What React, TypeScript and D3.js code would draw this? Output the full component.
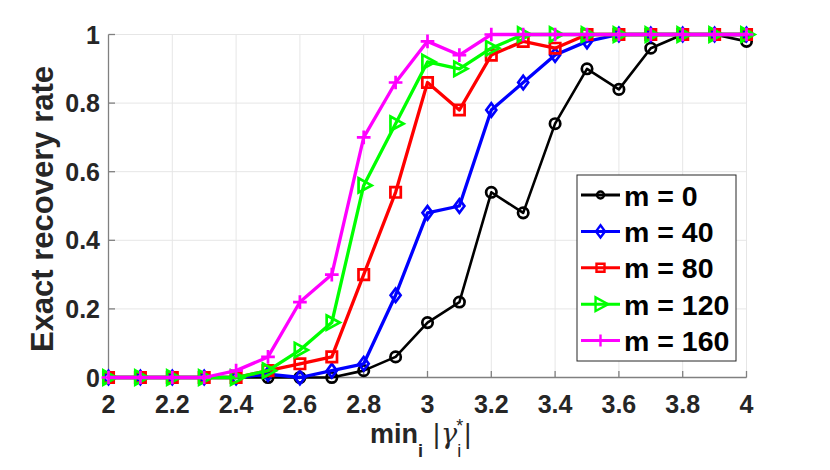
import * as d3 from "d3";

const xValues = [2, 2.1, 2.2, 2.3, 2.4, 2.5, 2.6, 2.7, 2.8, 2.9, 3, 3.1, 3.2, 3.3, 3.4, 3.5, 3.6, 3.7, 3.8, 3.9, 4];

const m0 = [0, 0, 0, 0, 0, 0, 0, 0, 0.02, 0.06, 0.16, 0.22, 0.54, 0.48, 0.74, 0.9, 0.84, 0.96, 1, 1, 0.98];
const m40 = [0, 0, 0, 0, 0, 0.01, 0, 0.02, 0.04, 0.24, 0.48, 0.5, 0.78, 0.86, 0.94, 0.98, 1, 1, 1, 1, 1];
const m80 = [0, 0, 0, 0, 0, 0.02, 0.04, 0.06, 0.3, 0.54, 0.86, 0.78, 0.94, 0.98, 0.96, 1, 1, 1, 1, 1, 1];
const m120 = [0, 0, 0, 0, 0, 0.02, 0.08, 0.16, 0.56, 0.74, 0.92, 0.9, 0.96, 1, 1, 1, 1, 1, 1, 1, 1];
const m160 = [0, 0, 0, 0, 0.02, 0.06, 0.22, 0.3, 0.7, 0.86, 0.98, 0.94, 1, 1, 1, 1, 1, 1, 1, 1, 1];

const xTicks = [2, 2.2, 2.4, 2.6, 2.8, 3, 3.2, 3.4, 3.6, 3.8, 4];
const yTicks = [0, 0.2, 0.4, 0.6, 0.8, 1];

type Marker = "circle" | "diamond" | "square" | "triangle" | "plus";

interface Series {
  label: string;
  values: number[];
  color: string;
  marker: Marker;
  width: number;
}

const series: Series[] = [
  { label: "m = 0", values: m0, color: "#000000", marker: "circle", width: 2.6 },
  { label: "m = 40", values: m40, color: "#0000ff", marker: "diamond", width: 3.3 },
  { label: "m = 80", values: m80, color: "#ff0000", marker: "square", width: 3.3 },
  { label: "m = 120", values: m120, color: "#00ff00", marker: "triangle", width: 3.3 },
  { label: "m = 160", values: m160, color: "#ff00ff", marker: "plus", width: 3.3 },
];

const FONT = "'Liberation Sans', Arial, Helvetica, sans-serif";
const TXT = "#262626";

function markerPath(kind: Marker, s: number): string {
  // s ~ half size
  switch (kind) {
    case "circle":
      return `M${-s},0a${s},${s} 0 1,0 ${2 * s},0a${s},${s} 0 1,0 ${-2 * s},0Z`;
    case "diamond":
      return `M0,${-s * 1.35}L${s},0L0,${s * 1.35}L${-s},0Z`;
    case "square":
      return `M${-s},${-s}H${s}V${s}H${-s}Z`;
    case "triangle":
      return `M${-s * 0.9},${-s * 1.25}L${s * 1.4},0L${-s * 0.9},${s * 1.25}Z`;
    case "plus":
      return `M${-s * 1.2},0H${s * 1.2}M0,${-s * 1.2}V${s * 1.2}`;
  }
}

const plotSize: Record<Marker, number> = { circle: 5.2, diamond: 5, square: 5.2, triangle: 5.7, plus: 5.7 };
const legendSize: Record<Marker, number> = { circle: 3.5, diamond: 4.5, square: 4, triangle: 5.5, plus: 5 };

export default function App() {
  const width = 830;
  const height = 470;
  const x = d3.scaleLinear().domain([2, 4]).range([108.5, 746.5]);
  const y = d3.scaleLinear().domain([0, 1]).range([377.5, 34.5]);

  const line = d3
    .line<number>()
    .x((_, i) => x(xValues[i]))
    .y((d) => y(d));

  const legendX = 577;
  const legendY = 175;
  const legendW = 159;
  const legendH = 186;
  const rowStep = 36.4;

  return (
    <div style={{ position: "absolute", left: 0, top: 0 }}>
      <svg width={width} height={height} style={{ display: "block", background: "#fff" }}>
        {/* grid */}
        <g stroke="#e6e6e6" strokeWidth={1}>
          {xTicks.map((t) => (
            <line key={`gx${t}`} x1={x(t)} x2={x(t)} y1={y(0)} y2={y(1)} />
          ))}
          {yTicks.map((t) => (
            <line key={`gy${t}`} x1={x(2)} x2={x(4)} y1={y(t)} y2={y(t)} />
          ))}
        </g>

        {/* axes */}
        <g stroke="#808080" strokeWidth={1.3} fill="none">
          <line x1={x(2)} x2={x(4)} y1={y(0)} y2={y(0)} />
          <line x1={x(2)} x2={x(2)} y1={y(0)} y2={y(1)} />
          {xTicks.map((t) => (
            <line key={`tx${t}`} x1={x(t)} x2={x(t)} y1={y(0)} y2={y(0) - 6.5} />
          ))}
          {yTicks.map((t) => (
            <line key={`ty${t}`} x1={x(2)} x2={x(2) + 6.5} y1={y(t)} y2={y(t)} />
          ))}
        </g>

        {/* tick labels */}
        <g fontFamily={FONT} fontWeight="bold" fontSize={25} fill={TXT}>
          {xTicks.map((t) => (
            <text key={`lx${t}`} x={x(t)} y={413} textAnchor="middle">
              {d3.format("~g")(t)}
            </text>
          ))}
          {yTicks.map((t) => (
            <text key={`ly${t}`} x={100} y={y(t) + 9} textAnchor="end">
              {d3.format("~g")(t)}
            </text>
          ))}
        </g>

        {/* axis labels */}
        <text
          transform={`translate(53,209) rotate(-90)`}
          textAnchor="middle"
          fontFamily={FONT}
          fontWeight="bold"
          fontSize={31}
          fill={TXT}
        >
          Exact recovery rate
        </text>
        <text x={370} y={443} fontFamily={FONT} fontWeight="bold" fontSize={27} fill={TXT}>
          min
          <tspan fontSize={18} dy={14}>i</tspan>
          <tspan fontSize={27} dy={-14} fontWeight="normal" dx={10}>|</tspan>
          <tspan fontSize={27} fontStyle="italic" fontWeight="normal" fontFamily="'DejaVu Serif', serif" dx={1}>γ</tspan>
          <tspan fontSize={18} dy={14} fontWeight="normal">i</tspan>
          <tspan fontSize={18} dy={-25} dx={-5} fontWeight="normal">*</tspan>
          <tspan fontSize={27} dy={11} fontWeight="normal" dx={1}>|</tspan>
        </text>

        {/* series */}
        {series.map((s) => (
          <g key={s.label}>
            <path d={line(s.values) ?? ""} fill="none" stroke={s.color} strokeWidth={s.width} strokeLinejoin="round" />
            {s.values.map((v, i) => (
              <path
                key={i}
                transform={`translate(${x(xValues[i])},${y(v)})`}
                d={markerPath(s.marker, plotSize[s.marker])}
                fill="none"
                stroke={s.color}
                strokeWidth={2.7}
              />
            ))}
          </g>
        ))}

        {/* legend */}
        <rect x={legendX} y={legendY} width={legendW} height={legendH} fill="#fff" stroke="#262626" strokeWidth={1} />
        {series.map((s, i) => {
          const cy = 195 + i * rowStep;
          return (
            <g key={`lg${s.label}`}>
              <line x1={581} x2={620} y1={cy} y2={cy} stroke={s.color} strokeWidth={3} />
              <path
                transform={`translate(600.5,${cy})`}
                d={markerPath(s.marker, legendSize[s.marker])}
                fill="none"
                stroke={s.color}
                strokeWidth={2.4}
              />
              <text x={624} y={cy + 10.5} fontFamily={FONT} fontWeight="bold" fontSize={28.5} fill="#000">
                {s.label}
              </text>
            </g>
          );
        })}
      </svg>
    </div>
  );
}
